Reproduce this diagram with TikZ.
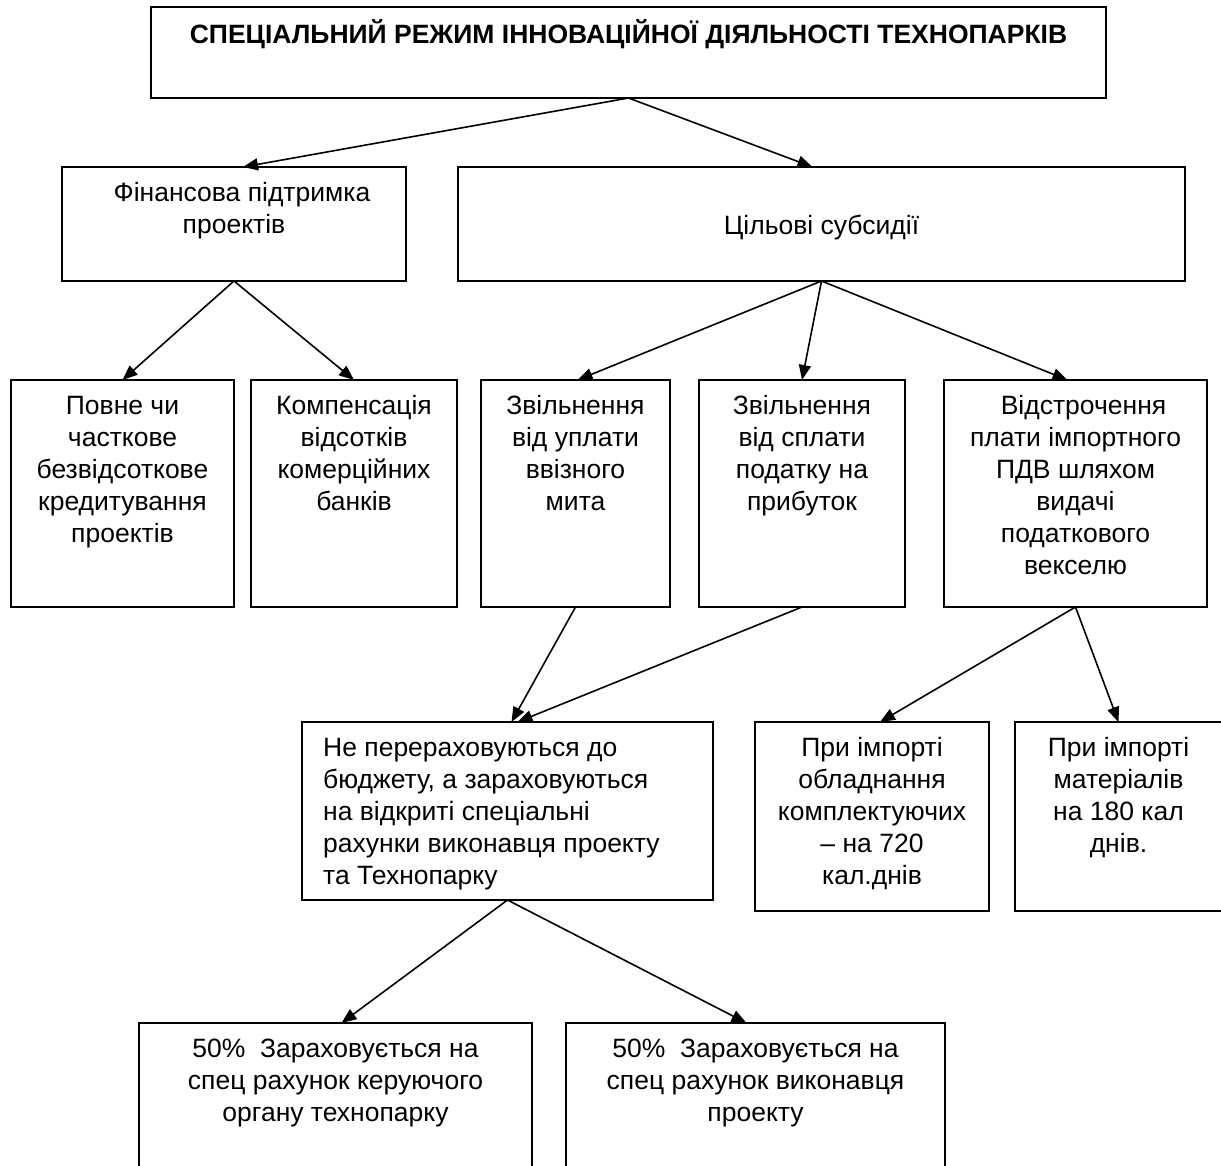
\documentclass[tikz,border=0pt]{standalone}
\usepackage{fontspec}
\setmainfont{Liberation Sans}
\usetikzlibrary{arrows.meta, positioning}

\begin{document}
\begin{tikzpicture}[
        x=1pt, y=-1pt,
        font=\fontsize{26.5}{32}\selectfont,
        box/.style={draw, line width=2pt, inner sep=0pt, outer sep=0pt, anchor=north west},
        txt/.style={inner sep=0pt, align=center, anchor=north},
        arr/.style={-{Triangle[length=15pt, width=12pt]}, line width=1.6pt}
    ]
        \useasboundingbox (0,0) rectangle (1221,1165);
        \clip (0,0) rectangle (1221,1165);

        % top
        \node[box, minimum width=955pt, minimum height=91pt] (rezhym) at (151,7) {};
        \node[txt, below=12pt of rezhym.north, font=\bfseries\fontsize{26.5}{32}\selectfont] (rezhym-t) {\strut СПЕЦІАЛЬНИЙ РЕЖИМ ІННОВАЦІЙНОЇ ДІЯЛЬНОСТІ ТЕХНОПАРКІВ};

        % second row
        \node[box, minimum width=344pt, minimum height=114pt] (finans) at (62,167) {};
        \node[box, minimum width=727pt, minimum height=114pt, right=52pt of finans.north east, anchor=north west] (subsydii) {};
        \node[txt, below=12pt of finans.north] (finans-t) {\strut\hspace*{16pt}Фінансова підтримка\\проектів};
        \node[txt, below=45pt of subsydii.north] (subsydii-t) {\strut Цільові субсидії};

        % third row
        \node[box, minimum width=223pt, minimum height=227pt] (kredyt) at (11,380) {};
        \node[box, minimum width=206pt, minimum height=227pt, right=17pt of kredyt.north east, anchor=north west] (kompens) {};
        \node[box, minimum width=189pt, minimum height=227pt, right=24pt of kompens.north east, anchor=north west] (myto) {};
        \node[box, minimum width=206pt, minimum height=227pt, right=29pt of myto.north east, anchor=north west] (prybutok) {};
        \node[box, minimum width=263pt, minimum height=227pt, right=39pt of prybutok.north east, anchor=north west] (pdv) {};
        \node[txt, below=12pt of kredyt.north] (kredyt-t) {\strut Повне чи\\часткове\\безвідсоткове\\кредитування\\проектів};
        \node[txt, below=12pt of kompens.north] (kompens-t) {\strut Компенсація\\відсотків\\комерційних\\банків};
        \node[txt, below=12pt of myto.north] (myto-t) {\strut Звільнення\\від уплати\\ввізного\\мита};
        \node[txt, below=12pt of prybutok.north] (prybutok-t) {\strut Звільнення\\від сплати\\податку на\\прибуток};
        \node[txt, below=12pt of pdv.north] (pdv-t) {\strut\hspace*{16pt}Відстрочення\\плати імпортного\\ПДВ шляхом\\видачі\\податкового\\векселю};

        % fourth row
        \node[box, minimum width=411pt, minimum height=178pt] (rakhunky) at (302,722) {};
        \node[box, minimum width=234pt, minimum height=189pt, right=42pt of rakhunky.north east, anchor=north west] (obladn) {};
        \node[box, minimum width=207pt, minimum height=189pt, right=26pt of obladn.north east, anchor=north west] (mater) {};
        \node[txt, align=left, below right=12pt and 21pt of rakhunky.north west] (rakhunky-t) {\strut Не перераховуються до\\бюджету, а зараховуються\\на відкриті спеціальні\\рахунки виконавця проекту\\та Технопарку};
        \node[txt, below=12pt of obladn.north] (obladn-t) {\strut При імпорті\\обладнання\\комплектуючих\\– на 720\\кал.днів};
        \node[txt, below=12pt of mater.north] (mater-t) {\strut При імпорті\\матеріалів\\на 180 кал\\днів.};

        % bottom row
        \node[box, minimum width=393pt, minimum height=160pt] (keruch) at (139,1023) {};
        \node[box, minimum width=379pt, minimum height=160pt, right=34pt of keruch.north east, anchor=north west] (vykon) {};
        \node[txt, below=12pt of keruch.north] (keruch-t) {\strut 50\%\ \ Зараховується на\\спец рахунок керуючого\\органу технопарку};
        \node[txt, below=12pt of vykon.north] (vykon-t) {\strut 50\%\ \ Зараховується на\\спец рахунок виконавця\\проекту};

        \draw[arr] (rezhym.south) -- ([xshift=9pt]finans.north);
        \draw[arr] (rezhym.south) -- ([xshift=-9pt]subsydii.north);
        \draw[arr] (finans.south) -- (kredyt.north);
        \draw[arr] (finans.south) -- (kompens.north);
        \draw[arr] (subsydii.south) -- ([xshift=2pt]myto.north);
        \draw[arr] (subsydii.south) -- (prybutok.north);
        \draw[arr] (subsydii.south) -- ([xshift=-8pt]pdv.north);
        \draw[arr] (myto.south) -- ([xshift=4pt]rakhunky.north);
        \draw[arr] (prybutok.south) -- ([xshift=10pt]rakhunky.north);
        \draw[arr] (pdv.south) -- ([xshift=8pt]obladn.north);
        \draw[arr] (pdv.south) -- (mater.north);
        \draw[arr] (rakhunky.south) -- ([xshift=6pt]keruch.north);
        \draw[arr] (rakhunky.south) -- ([xshift=-9pt]vykon.north);
    \end{tikzpicture}
\end{document}
